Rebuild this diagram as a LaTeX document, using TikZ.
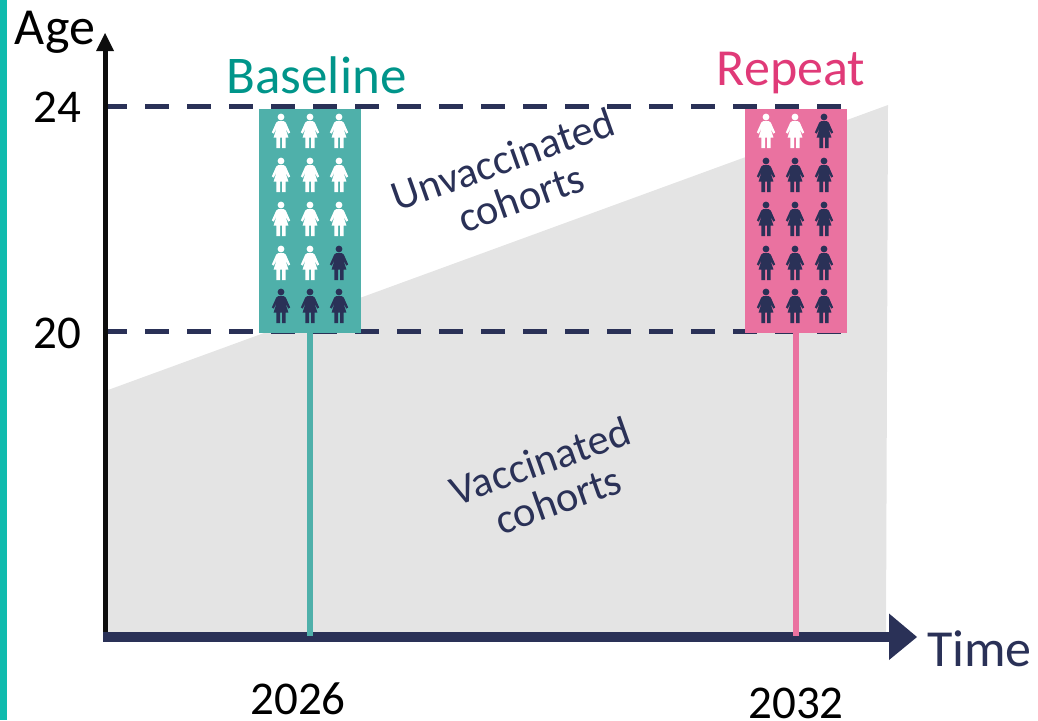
\documentclass[tikz,border=0pt]{standalone}
\usepackage{fontspec}
\setmainfont{Carlito}
\definecolor{navy}{HTML}{2A3157}
\definecolor{tealbox}{HTML}{4FB0AA}
\definecolor{tealtxt}{HTML}{00958A}
\definecolor{pinkbox}{HTML}{EA72A0}
\definecolor{pinktxt}{HTML}{E03A78}
\definecolor{sidebar}{HTML}{10BBAE}
\definecolor{greyarea}{HTML}{E4E4E4}
\tikzset{
  x=1pt,y=-1pt,
  lbl/.style={inner sep=0pt,anchor=center,font=\fontsize{#1}{#1}\selectfont},
  guide/.style={navy,line width=5.5pt,dash pattern=on 24pt off 18pt},
  woman/.pic={
    \fill (0,0) circle (3.4);
    \fill (-2.6,4) -- (2.6,4) .. controls (3.6,4) and (4.3,4.6) .. (4.8,5.6)
      -- (9.2,15.5) -- (7.2,16.6) -- (4.2,10.5) -- (7.4,20.5) -- (4.6,20.5)
      -- (4.6,31) -- (1,31) -- (1,20.5) -- (-1,20.5) -- (-1,31) -- (-4.6,31)
      -- (-4.6,20.5) -- (-7.4,20.5) -- (-4.2,10.5) -- (-7.2,16.6) -- (-9.2,15.5)
      -- (-4.8,5.6) .. controls (-4.3,4.6) and (-3.6,4) .. (-2.6,4) -- cycle;
  }
}
\begin{document}
\begin{tikzpicture}
\useasboundingbox (0,0) rectangle (1038,720);
\fill[sidebar] (0,0) rectangle (6.5,720);
\fill[greyarea] (108,390) -- (888,105) -- (886,632) -- (108,632) -- cycle;
\coordinate (dA) at (108,106.7);
\coordinate (dB) at (846,106.7);
\coordinate (dC) at (108,331.5);
\coordinate (dD) at (846,331.5);
\draw[guide,dash phase=5pt] (dA) -- (dB);
\draw[guide,dash phase=5pt] (dC) -- (dD);
\node[fill=tealbox,minimum width=102pt,minimum height=224pt,inner sep=0pt] (basebox) at (310,221) {};
\node[fill=pinkbox,minimum width=102pt,minimum height=224pt,inner sep=0pt] (repbox) at (796,221) {};
\coordinate (o) at (103,637);
\coordinate (t1) at (310,636);
\coordinate (t2) at (796,636);
% axes
\coordinate (yend) at (105,45);
\coordinate (ytip) at (105,33);
\coordinate (xend) at (892,637);
\coordinate (xtip) at (917,637);
\draw[black!95,line width=5pt] (105,638) -- (yend);
\fill[black!95] (ytip) -- (114,51) -- (96,51) -- cycle;
\draw[navy,line width=9.5pt] (o) -- (xend);
\fill[navy] (xtip) -- (889,613.5) -- (889,660) -- cycle;
\draw[tealbox,line width=6pt] (basebox.south) -- (t1);
\draw[pinkbox,line width=6pt] (repbox.south) -- (t2);
% people
\foreach \y/\a/\b/\c in {117/white/white/white,161/white/white/white,205/white/white/white,249/white/white/navy,292/navy/navy/navy}{
  \pic[fill=\a] at (281,\y) {woman};
  \pic[fill=\b] at (310,\y) {woman};
  \pic[fill=\c] at (339,\y) {woman};
}
\foreach \y/\a/\b/\c in {117/white/white/navy,161/navy/navy/navy,205/navy/navy/navy,249/navy/navy/navy,292/navy/navy/navy}{
  \pic[fill=\a] at (766,\y) {woman};
  \pic[fill=\b] at (795,\y) {woman};
  \pic[fill=\c] at (824,\y) {woman};
}
% labels
\node[lbl=52] (age) at (55,32) {Age};
\node[lbl=47] (n24) at (57,107) {24};
\node[lbl=47] (n20) at (57,333) {20};
\node[lbl=53,text=tealtxt] (baseline) at (316.5,75) {Baseline};
\node[lbl=52,text=pinktxt] (repeat) at (791,73) {Repeat};
\node[lbl=52,text=navy] (time) at (979.5,649) {Time};
\node[lbl=47] (y1) at (298,699) {2026};
\node[lbl=47] (y2) at (796,703) {2032};
\node[lbl=42.5,text=navy,rotate=19.5,align=center] (unvac) at (510,179) {\fontsize{42.5}{68}\selectfont Unvaccinated\\\hspace*{8pt}cohorts};
\node[lbl=42.5,text=navy,rotate=19.5,align=center] (vac) at (547,481) {\fontsize{42.5}{68}\selectfont Vaccinated\\\hspace*{8pt}cohorts};
\end{tikzpicture}
\end{document}
